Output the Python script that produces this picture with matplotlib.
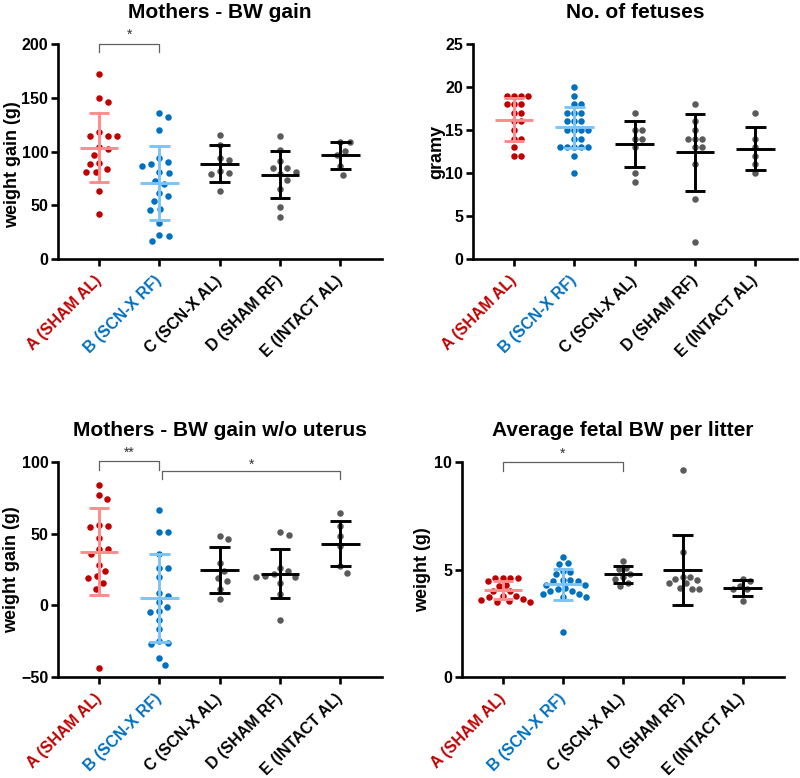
import numpy as np
import matplotlib
matplotlib.use("Agg")
import matplotlib.pyplot as plt

plt.rcParams['font.family'] = ['Liberation Sans', 'DejaVu Sans']
plt.rcParams['font.weight'] = 'bold'

groups = ["A (SHAM AL)", "B (SCN-X RF)", "C (SCN-X AL)", "D (SHAM RF)", "E (INTACT AL)"]

# Panel 1: Mothers - BW gain
p1_A = [171.7, 149.7, 145.7, 114.6, 114.0, 114.6, 117.7, 101.9, 96.6, 104.3, 89.1, 88.8, 83.5, 80.7, 80.7, 63.0, 41.9]
p1_B = [131.7, 135.7, 119.6, 88.8, 90.4, 86.6, 93.5, 80.7, 79.8, 70.2, 73.0, 61.2, 58.7, 54.0, 46.0, 46.9, 33.9, 22.7, 21.7, 16.8]
p1_C = [115.8, 105.6, 94.4, 91.9, 80.1, 79.2, 81.7, 63.0]
p1_D = [114.6, 101.6, 90.7, 85.1, 80.7, 85.1, 79.2, 73.6, 64.9, 48.4, 38.8]
p1_E = [108.7, 108.7, 100.9, 96.6, 86.6, 78.0]
p1_mean = [103.7, 70.5, 88.8, 78.6, 96.3]
p1_sd = [32.0, 34.6, 16.8, 21.7, 12.7]

# Panel 2: No. of fetuses
p2_A = [19, 19, 19, 19, 18, 18, 18, 17, 17, 16, 16, 15, 14, 14, 13, 12, 12]
p2_B = [20, 19, 18, 18, 17, 17, 17, 16, 16, 16, 15, 15, 15, 15, 14, 14, 13, 13, 13, 13, 13, 12, 10]
p2_C = [17, 15, 15, 14, 14, 13, 10, 9]
p2_D = [18, 16, 15, 14, 14, 14, 13, 13, 11, 7, 2]
p2_E = [17, 14, 13, 12, 11, 10]
p2_mean = [16.2, 15.3, 13.4, 12.4, 12.8]
p2_sd = [2.5, 2.4, 2.7, 4.45, 2.5]

# Panel 3: Mothers - BW gain w/o uterus
p3_A = [84.1, 76.9, 74.3, 55.9, 54.5, 55.0, 47.0, 39.1, 39.1, 35.9, 28.4, 23.7, 20.7, 15.8, 19.1, 11.4, -43.5]
p3_B = [66.4, 51.5, 51.5, 35.9, 26.3, 26.3, 19.8, 8.8, 6.7, 2.5, -3.8, -5.0, -1.0, -10.1, -16.4, -26.2, -26.9, -24.8, -36.5, -41.6]
p3_C = [48.4, 46.3, 29.3, 23.7, 18.8, 17.0, 11.4, 4.4]
p3_D = [49.4, 51.5, 26.3, 21.9, 19.8, 23.7, 19.8, 20.5, 15.3, 7.6, -9.9]
p3_E = [64.3, 55.4, 48.2, 41.7, 27.2, 22.6]
p3_mean = [37.5, 5.1, 24.7, 22.1, 43.1]
p3_sd = [30.2, 30.8, 15.9, 17.3, 16.0]

# Panel 4: Average fetal BW per litter
p4_A = [4.62, 4.62, 4.62, 4.62, 4.48, 4.25, 4.3, 4.0, 4.0, 3.75, 3.7, 3.75, 3.65, 3.55, 3.5, 3.5, 3.6]
p4_B = [5.57, 5.26, 5.29, 4.87, 4.8, 4.93, 4.5, 4.47, 4.47, 4.5, 4.3, 4.3, 4.1, 4.16, 3.98, 3.88, 3.73, 3.88, 3.98, 3.73, 2.07]
p4_C = [5.4, 5.02, 5.08, 4.78, 4.56, 4.64, 4.24, 4.36]
p4_D = [9.64, 5.83, 4.67, 4.56, 4.67, 4.39, 4.5, 4.14, 4.1, 4.1, 4.35]
p4_E = [4.48, 4.56, 4.08, 4.08, 4.23, 3.54]
p4_mean = [4.06, 4.31, 4.77, 4.98, 4.15]
p4_sd = [0.42, 0.71, 0.39, 1.62, 0.38]

RED = "#C00000"
BLUE = "#0070C0"
GRAY = "#5A5A5A"
point_colors = [RED, BLUE, GRAY, GRAY, GRAY]
bar_colors = ["#FF8C8C", "#7CC4F4", "black", "black", "black"]
label_colors = [RED, BLUE, "black", "black", "black"]

W, H = 800, 778
fig = plt.figure(figsize=(W / 100, H / 100), dpi=100)


def px_axes(l, r, t, b):
    return fig.add_axes([l / W, 1 - b / H, (r - l) / W, (b - t) / H])


DOT = 6.5  # dot diameter in px


def swarm_offsets(ax, x0, vals, d):
    # simple beeswarm in pixel space, collision distance d px
    tr = ax.transData
    pts = np.array([tr.transform((x0, v)) for v in vals])
    ypix = pts[:, 1]
    xc = pts[0, 0]
    order = np.argsort(-ypix, kind='stable')
    placed = []
    xs = np.zeros(len(vals))
    for i in order:
        y = ypix[i]
        cands = [0.0]
        for (px, py) in placed:
            dy = abs(py - y)
            if dy < d:
                dx = np.sqrt(d ** 2 - dy ** 2) + 0.01
                cands += [px + dx, px - dx]
        cands = sorted(set(cands), key=lambda c: (round(abs(c), 3), -c))
        c = 0.0
        for c in cands:
            ok = all((c - px) ** 2 + (y - py) ** 2 >= d ** 2 - 0.05 for (px, py) in placed)
            if ok:
                break
        placed.append((c, y))
        xs[i] = c
    inv = tr.inverted()
    return np.array([inv.transform((xc + dx, yy))[0] for dx, yy in zip(xs, ypix)])


def panel(ax, data, means, sds, title, ylabel, ylim, yticks, d, ylab_xy):
    ax.set_xlim(-0.68, 4.69)
    ax.set_ylim(*ylim)
    ax.set_yticks(yticks)
    for i, vals in enumerate(data):
        xs = swarm_offsets(ax, i, vals, d)
        ax.scatter(xs, vals, s=(DOT * 0.72) ** 2, color=point_colors[i], zorder=3,
                   linewidths=0, clip_on=False)
        m, s = means[i], sds[i]
        c = bar_colors[i]
        kw = dict(color=c, lw=2.1, zorder=4, solid_capstyle='butt')
        ax.plot([i, i], [m - s, m + s], **kw)
        ax.plot([i - 0.32, i + 0.32], [m, m], **kw)
        ax.plot([i - 0.17, i + 0.17], [m + s, m + s], **kw)
        ax.plot([i - 0.17, i + 0.17], [m - s, m - s], **kw)
    ax.set_xticks(range(5))
    ax.set_xticklabels(groups, rotation=45, ha='right', va='center', rotation_mode='anchor',
                       fontsize=11.5, fontweight='bold')
    for lab, col in zip(ax.get_xticklabels(), label_colors):
        lab.set_color(col)
    ax.tick_params(axis='both', direction='out', length=5, width=1.9, labelsize=11.5)
    ax.tick_params(axis='x', pad=9)
    ax.tick_params(axis='y', pad=2)
    for lab in ax.get_yticklabels():
        lab.set_fontweight('bold')
    for sp in ['top', 'right']:
        ax.spines[sp].set_visible(False)
    for sp in ['left', 'bottom']:
        ax.spines[sp].set_linewidth(1.9)
    ax.set_title(title, fontsize=15, fontweight='bold', pad=19)
    ax.set_ylabel(ylabel, fontsize=13, fontweight='bold', va='center')
    ax.yaxis.set_label_coords(*ylab_xy)


def bracket(ax, x1, x2, y, leg, text, textdy):
    ax.plot([x1, x1, x2, x2], [y - leg, y, y, y - leg], color="#606060", lw=0.9,
            clip_on=False, zorder=5)
    ax.text((x1 + x2) / 2, y + textdy, text, ha='center', va='center', fontsize=10,
            fontweight='normal', color="#303030", clip_on=False)


ax1 = px_axes(58, 382, 44, 259)
panel(ax1, [p1_A, p1_B, p1_C, p1_D, p1_E], p1_mean, p1_sd,
      "Mothers - BW gain", "weight gain (g)", (0, 200), [0, 50, 100, 150, 200],
      9.5, (-0.14, 0.44))
bracket(ax1, 0, 1, 200, 7, "*", 9)

ax2 = px_axes(473, 797, 44, 259)
panel(ax2, [p2_A, p2_B, p2_C, p2_D, p2_E], p2_mean, p2_sd,
      "No. of fetuses", "gramy", (0, 25), [0, 5, 10, 15, 20, 25],
      7.0, (-0.111, 0.5))

ax3 = px_axes(58, 382, 462, 677)
panel(ax3, [p3_A, p3_B, p3_C, p3_D, p3_E], p3_mean, p3_sd,
      "Mothers - BW gain w/o uterus", "weight gain (g)", (-50, 100), [-50, 0, 50, 100],
      9.0, (-0.142, 0.5))
bracket(ax3, 0, 1, 100.5, 6, "**", 6)
bracket(ax3, 1.05, 4, 93.8, 6, "*", 4)

ax4 = px_axes(462, 784, 462, 677)
panel(ax4, [p4_A, p4_B, p4_C, p4_D, p4_E], p4_mean, p4_sd,
      "Average fetal BW per litter", "weight (g)", (0, 10), [0, 5, 10],
      7.7, (-0.121, 0.5))
bracket(ax4, 0, 2, 10, 0.4, "*", 0.4)

fig.savefig("out.png", dpi=100)
